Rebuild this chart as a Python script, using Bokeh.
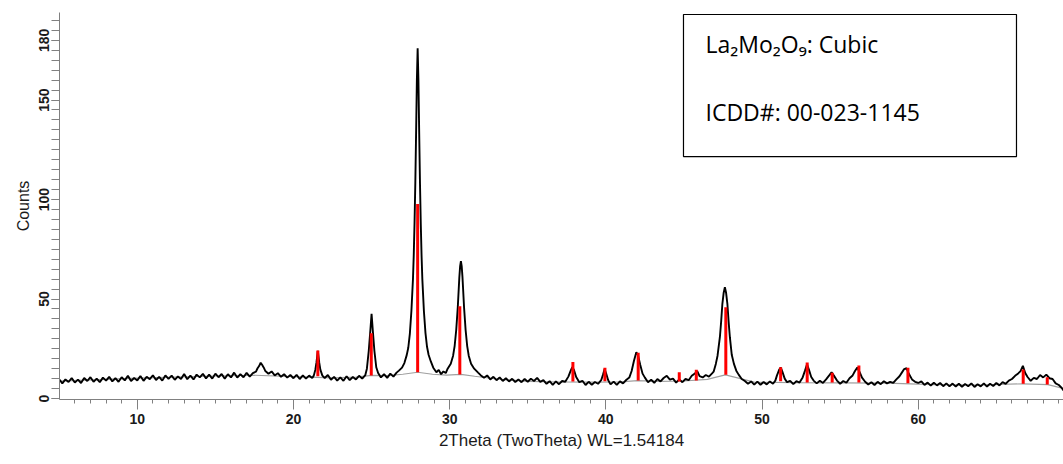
from bokeh.plotting import figure
from bokeh.models import Range1d, FixedTicker, BoxAnnotation, Label
from bokeh.embed import file_html
from bokeh.resources import INLINE

# ---------------- data ----------------
tt_1 = [5.0, 5.2, 5.4, 5.6, 5.8, 6.0, 6.2, 6.4, 6.6, 6.8,
        7.0, 7.2, 7.4, 7.6, 7.8, 8.0, 8.2, 8.4, 8.6, 8.8,
        9.0, 9.2, 9.4, 9.6, 9.8, 10.0, 10.2, 10.4, 10.6, 10.8,
        11.0, 11.2, 11.4, 11.6, 11.8, 12.0, 12.2, 12.4, 12.6, 12.8,
        13.0, 13.2, 13.4, 13.6, 13.8, 14.0, 14.2, 14.4, 14.6, 14.8,
        15.0, 15.2, 15.4, 15.6, 15.8, 16.0, 16.2, 16.4, 16.6, 16.8,
        17.0, 17.2, 17.4]
ct_1 = [9.7, 7.6, 9.6, 8.3, 10.3, 8.0, 9.5, 7.8, 10.3, 8.8,
        10.7, 8.4, 10.0, 8.2, 10.5, 9.0, 10.9, 8.6, 10.2, 8.4,
        10.7, 9.1, 11.4, 8.8, 10.3, 9.1, 11.3, 8.9, 10.9, 9.7,
        11.7, 9.3, 10.9, 9.0, 11.6, 9.9, 11.5, 9.4, 11.1, 9.8,
        12.3, 9.7, 11.5, 9.6, 12.0, 10.6, 12.4, 10.1, 12.0, 10.0,
        12.5, 10.7, 12.3, 10.0, 12.2, 10.6, 13.0, 10.5, 12.2, 10.7,
        12.9, 11.0, 12.8]

tt_2 = [17.6, 17.7, 17.8, 17.9, 18.0, 18.1, 18.2,
        18.4, 18.6, 18.8, 19.0, 19.2, 19.4, 19.6, 19.8, 20.0, 20.2, 20.4, 20.6, 20.8, 21.0, 21.2,
        21.3, 21.4, 21.47, 21.56, 21.65, 21.72, 21.85,
        22.0, 22.2, 22.4, 22.6, 22.8, 23.0, 23.2, 23.4, 23.6, 23.8, 24.0, 24.2, 24.4, 24.6,
        24.7, 24.82, 24.92, 25.0, 25.08, 25.18, 25.3, 25.42,
        25.6, 25.8, 26.0, 26.2, 26.4, 26.6]
ct_2 = [13.5, 15.2, 16.3, 18.0, 16.8, 15.5, 13.8,
        12.4, 13.6, 11.6, 12.7, 10.9, 12.2, 10.5, 11.8, 10.2, 11.9, 9.8, 11.6, 10.0, 11.5, 10.3,
        11.5, 14.5, 18.0, 24.0, 18.0, 14.5, 11.5,
        10.3, 11.8, 9.4, 10.9, 9.0, 10.6, 8.9, 11.2, 9.2, 10.8, 9.6, 11.4, 10.0, 11.8,
        15.0, 24.0, 34.0, 42.5, 34.0, 24.0, 15.7, 12.8,
        10.6, 12.2, 10.4, 12.5, 11.0, 13.0]

tt_3 = [26.75, 26.95, 27.1, 27.25, 27.35, 27.45, 27.55, 27.65, 27.7, 27.75,
        27.8, 27.85, 27.9, 27.95, 28.0, 28.05, 28.1, 28.15, 28.2, 28.25,
        28.35, 28.45, 28.55, 28.65, 28.8, 28.95, 29.15, 29.3, 29.45, 29.6,
        29.75, 29.87, 30.07, 30.22, 30.32, 30.42, 30.52, 30.57, 30.62, 30.67,
        30.72, 30.77, 30.82, 30.87, 30.92, 31.02, 31.12, 31.22, 31.37, 31.57,
        31.82, 32.0]
ct_3 = [14.0, 15.5, 17.8, 21.8, 25.5, 32.5, 44.0, 60.0, 72.0, 88.0,
        108.0, 133.0, 160.0, 176.0, 160.0, 133.0, 108.0, 88.0, 72.0, 60.0,
        44.0, 33.0, 26.0, 22.0, 18.5, 15.5, 13.2, 14.4, 12.2, 13.6,
        12.8, 15.0, 17.5, 21.5, 26.5, 34.5, 46.0, 53.5, 61.0, 66.5,
        69.0, 66.5, 61.0, 53.5, 46.0, 34.5, 26.5, 21.5, 17.5, 15.0,
        13.0, 11.6]

tt_4 = [32.2, 32.4, 32.6, 32.8, 33.0, 33.2, 33.4, 33.6, 33.8, 34.0,
        34.2, 34.4, 34.6, 34.8, 35.0, 35.2, 35.4, 35.6, 35.8, 36.0,
        36.2, 36.4, 36.6, 36.8, 37.0, 37.2, 37.4,
        37.6, 37.75, 37.85, 37.95, 38.1, 38.3,
        38.5, 38.7, 38.9, 39.1, 39.3, 39.5, 39.7,
        39.82, 39.92, 40.02, 40.15, 40.3,
        40.5, 40.7, 40.9, 41.1, 41.3, 41.5,
        41.65, 41.8, 41.95, 42.05, 42.2, 42.35, 42.5,
        42.7, 42.9, 43.1, 43.3, 43.5, 43.7, 43.9, 44.1, 44.3, 44.5, 44.7, 44.9, 45.1, 45.3, 45.5, 45.7,
        45.85, 46.0, 46.2, 46.4, 46.6, 46.8,
        46.9, 47.04, 47.15, 47.3, 47.38, 47.46, 47.54, 47.62, 47.7, 47.78, 47.86, 47.94, 48.06, 48.2, 48.35, 48.5,
        48.7, 48.9]
ct_4 = [10.4, 11.6, 9.6, 10.9, 9.2, 10.6, 8.8, 10.2, 8.6, 9.9,
        8.3, 9.6, 8.2, 9.8, 8.4, 9.9, 8.8, 10.4, 8.4, 9.2,
        7.4, 8.7, 6.9, 8.6, 7.2, 8.8, 8.4,
        11.0, 14.0, 15.8, 14.5, 10.8, 8.2,
        8.9, 6.8, 8.4, 6.9, 8.3, 7.4, 9.2,
        12.0, 14.8, 12.5, 9.2, 7.1,
        8.5, 6.8, 8.6, 7.6, 9.3, 10.5,
        13.8, 19.0, 23.2, 22.0, 17.0, 12.5, 10.5,
        8.2, 9.4, 7.9, 9.8, 8.6, 10.3, 11.4, 9.5, 10.0, 8.0, 9.6, 8.2, 9.8, 9.2, 11.4, 12.6,
        13.8, 11.2, 10.6, 11.8, 11.0, 12.6,
        13.5, 17.4, 21.5, 30.8, 38.5, 47.6, 53.0, 56.0, 53.0, 47.6, 38.5, 30.8, 22.0, 17.4, 14.0, 12.0,
        9.8, 8.8]

tt_5 = [49.1, 49.3, 49.5, 49.7, 49.9, 50.1, 50.3, 50.5, 50.7, 50.85,
        50.95, 51.1, 51.2, 51.3, 51.45, 51.6, 51.8, 52.0, 52.2, 52.4,
        52.6, 52.75, 52.88, 53.0, 53.15, 53.3, 53.5, 53.7, 53.9, 54.1,
        54.3, 54.45, 54.6, 54.8, 55.0, 55.2, 55.4, 55.6, 55.8, 55.95,
        56.1, 56.25, 56.4, 56.6, 56.8, 57.0, 57.2, 57.4, 57.6, 57.8,
        58.0, 58.2, 58.4, 58.6, 58.8, 58.95, 59.1, 59.25, 59.4, 59.6,
        59.8, 60.0, 60.2, 60.4, 60.6, 60.8, 61.0, 61.2, 61.4, 61.6,
        61.8, 62.0, 62.2, 62.4, 62.6, 62.8, 63.0, 63.2, 63.4, 63.6,
        63.8, 64.0, 64.2, 64.4, 64.6, 64.8, 65.0, 65.2, 65.4, 65.6,
        65.8, 66.0, 66.2, 66.4, 66.55, 66.7, 66.85, 67.0, 67.2, 67.4,
        67.6, 67.8, 68.0, 68.2, 68.4, 68.6, 68.8, 69.0, 69.2, 69.3]
ct_5 = [7.4, 8.6, 7.0, 8.5, 6.9, 8.3, 7.1, 8.6, 7.4, 9.0,
        11.5, 14.5, 15.6, 13.5, 10.0, 8.2, 8.9, 7.2, 8.7, 8.0,
        10.6, 14.0, 17.2, 14.5, 10.8, 9.0, 7.6, 8.9, 7.8, 9.6,
        11.6, 13.2, 11.5, 9.0, 7.4, 8.8, 7.9, 10.2, 11.6, 13.8,
        15.6, 13.2, 10.5, 8.4, 7.0, 8.2, 6.8, 8.4, 7.2, 8.7,
        7.6, 8.4, 7.8, 9.6, 11.2, 13.0, 14.8, 15.2, 12.4, 9.6,
        8.4, 7.8, 8.6, 6.8, 8.0, 6.5, 7.9, 6.6, 7.8, 6.2,
        7.6, 6.1, 7.5, 6.0, 7.4, 5.9, 7.3, 6.2, 7.6, 5.8,
        7.2, 6.1, 7.6, 6.0, 7.4, 6.3, 7.8, 6.6, 8.2, 7.4,
        9.0, 9.8, 11.4, 12.6, 13.8, 16.4, 12.8, 10.8, 8.9, 10.4,
        9.8, 11.8, 10.6, 12.0, 10.2, 9.8, 7.6, 6.8, 5.2, 4.0]

# fitted background (grey)
bg_x = [5.0, 10.0, 15.0, 17.5, 20.0, 22.5, 24.0, 25.0, 26.0, 27.0,
        27.95, 28.9, 29.8, 30.72, 31.6, 33.0, 35.0, 37.0, 39.0, 41.0,
        42.0, 43.5, 45.0, 46.5, 47.0, 47.65, 48.3, 49.5, 52.0, 55.0,
        58.0, 61.0, 64.0, 66.7, 68.3, 69.3]
bg_y = [8.7, 10.2, 11.3, 11.7, 11.0, 10.4, 10.7, 11.6, 11.5, 12.2,
        13.2, 12.2, 11.8, 12.1, 11.2, 9.8, 8.6, 8.3, 8.2, 8.4,
        9.0, 8.6, 8.8, 9.6, 10.6, 11.9, 10.6, 8.2, 8.0, 7.9,
        7.7, 7.0, 6.8, 7.4, 7.0, 5.0]

# reference pattern sticks (red)
stick_pos = [21.56, 24.98, 27.95, 30.65, 37.89, 39.94, 42.07, 44.70, 45.79,
             47.68, 51.19, 52.89, 54.49, 56.20, 59.34, 66.72, 68.26]
stick_base = [11.2, 11.6, 13.2, 12.1, 8.5, 8.7, 9.0, 8.5, 9.0,
              11.9, 8.7, 8.0, 8.0, 8.0, 7.7, 7.4, 7.0]
stick_top = [24.1, 32.8, 97.8, 46.4, 18.3, 15.4, 23.0, 13.2, 14.4,
             45.9, 15.7, 18.1, 12.9, 16.6, 15.4, 14.6, 10.7]

x_tick_values = [10, 20, 30, 40, 50, 60]
y_tick_values = [0, 50, 100, 150, 180]

legend_line1 = "La\u2082Mo\u2082O\u2089: Cubic"
legend_line2 = "ICDD#: 00-023-1145"

two_theta = tt_1 + tt_2 + tt_3 + tt_4 + tt_5
counts = ct_1 + ct_2 + ct_3 + ct_4 + ct_5

# ---------------- figure ----------------
p = figure(width=1063, height=464, output_backend="svg", toolbar_location=None,
           x_range=Range1d(5.02, 69.3), y_range=Range1d(-0.5, 194.0),
           min_border_left=59, min_border_right=0, min_border_top=12, min_border_bottom=65)
p.outline_line_color = None
p.xgrid.visible = False
p.ygrid.visible = False
p.background_fill_color = "white"
p.border_fill_color = "white"

p.line(bg_x, bg_y, line_color="#a0a0a0", line_width=1.2)
p.line(two_theta, counts, line_color="black", line_width=1.9)
p.segment(x0=stick_pos, y0=stick_base, x1=stick_pos, y1=stick_top,
          line_color="#ff0000", line_width=3, line_cap="butt")

axis_col = "#808080"
for ax in (p.xaxis[0], p.yaxis[0]):
    ax.axis_line_color = axis_col
    ax.major_tick_line_color = axis_col
    ax.minor_tick_line_color = axis_col
    ax.major_tick_in = 0
    ax.minor_tick_in = 0
    ax.major_label_text_font = "Liberation Sans"
    ax.major_label_text_font_size = "14px"
    ax.major_label_text_font_style = "bold"
    ax.major_label_text_color = "#1a1a1a"
    ax.axis_label_text_font = "Liberation Sans"
    ax.axis_label_text_font_style = "normal"
    ax.axis_label_text_color = "#1a1a1a"

p.xaxis.ticker = FixedTicker(ticks=x_tick_values, minor_ticks=list(range(5, 70)))
p.xaxis.major_tick_out = 10
p.xaxis.minor_tick_out = 4
p.xaxis.major_label_standoff = 4
p.xaxis.axis_label = "2Theta (TwoTheta) WL=1.54184"
p.xaxis.axis_label_text_font_size = "17px"
p.xaxis.axis_label_standoff = 4

p.yaxis.ticker = FixedTicker(ticks=y_tick_values, minor_ticks=list(range(0, 195, 5)))
p.yaxis.major_tick_out = 8
p.yaxis.minor_tick_out = 8
p.yaxis.major_label_orientation = "vertical"
p.yaxis.major_label_standoff = 2
p.yaxis.axis_label = "Counts"
p.yaxis.axis_label_text_font_size = "16px"
p.yaxis.axis_label_standoff = 5

box = BoxAnnotation(left=44.97, right=66.29, bottom=121.6, top=193.0,
                    fill_color="white", fill_alpha=1.0,
                    line_color="black", line_width=1.2, line_alpha=1.0)
p.add_layout(box)
p.add_layout(Label(x=46.38, y=178.4, text=legend_line1, text_font="Open Sans",
                   text_font_size="23px", text_baseline="middle", text_color="black"))
p.add_layout(Label(x=46.38, y=144.2, text=legend_line2, text_font="Open Sans",
                   text_font_size="23px", text_baseline="middle", text_color="black"))

open("out.html", "w").write(file_html(p, INLINE))
